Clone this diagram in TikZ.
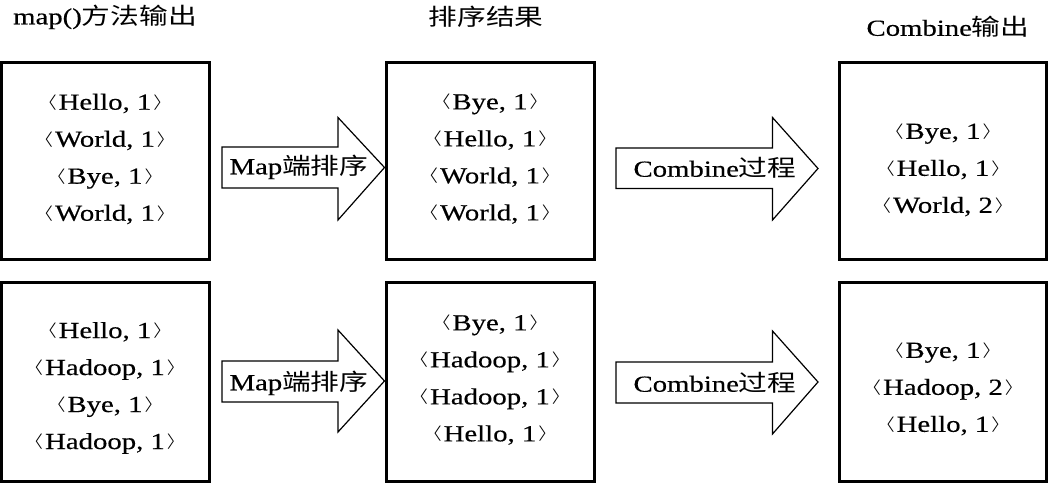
\documentclass[tikz,border=0pt]{standalone}
\usepackage{fontspec}
\setmainfont{Liberation Serif}[FakeStretch=1.25,FakeBold=0.4]
\newfontfamily\cjkfont{Noto Sans CJK SC}[FakeStretch=1.25]
\newcommand\zh[1]{{\cjkfont #1}}
\newcommand\lbr{\raisebox{3.5pt}{\scalebox{1.1}[0.62]{$\langle$}}\kern1.5pt}
\newcommand\rbr{\kern1.5pt\raisebox{3.5pt}{\scalebox{1.1}[0.62]{$\rangle$}}}
\newcommand\kv[2]{\lbr#1, #2\rbr}
\begin{document}
\begin{tikzpicture}[x=1pt,y=-1pt,
  box/.style={draw,line width=3pt,inner sep=0pt},
  arr/.style={draw,line width=1.2pt,line join=miter,fill=white},
  txt/.style={font=\fontsize{23}{37}\selectfont,align=center,inner sep=0pt},
  ttl/.style={font=\fontsize{23}{28}\selectfont,inner sep=0pt}]
\useasboundingbox (0,0) rectangle (1050,484);
% titles
\node[ttl] (h1) at (105,17) {map()\zh{方法输出}};
\node[ttl] (h2) at (486,17) {\zh{排序结果}};
\node[ttl] (h3) at (948,27) {Combine\zh{输出}};
% boxes
\node[box,minimum width=208pt,minimum height=197pt] (a1) at (105.5,161) {};
\node[box,minimum width=208pt,minimum height=197pt] (b1) at (490.5,161) {};
\node[box,minimum width=207pt,minimum height=197pt] (c1) at (943,161) {};
\node[box,minimum width=208pt,minimum height=198.5pt] (a2) at (105.5,382) {};
\node[box,minimum width=208pt,minimum height=198.5pt] (b2) at (490.5,382) {};
\node[box,minimum width=207pt,minimum height=198.5pt] (c2) at (943,382) {};
% box texts
\node[txt] (ta1) at (105,159) {\kv{Hello}{1}\\\kv{World}{1}\\\kv{Bye}{1}\\\kv{World}{1}};
\node[txt] (tb1) at (490,159) {\kv{Bye}{1}\\\kv{Hello}{1}\\\kv{World}{1}\\\kv{World}{1}};
\node[txt] (tc1) at (943,170) {\kv{Bye}{1}\\\kv{Hello}{1}\\\kv{World}{2}};
\node[txt] (ta2) at (105,388) {\kv{Hello}{1}\\\kv{Hadoop}{1}\\\kv{Bye}{1}\\\kv{Hadoop}{1}};
\node[txt] (tb2) at (490,380) {\kv{Bye}{1}\\\kv{Hadoop}{1}\\\kv{Hadoop}{1}\\\kv{Hello}{1}};
\node[txt] (tc2) at (943,389) {\kv{Bye}{1}\\\kv{Hadoop}{2}\\\kv{Hello}{1}};
% block arrows
\draw[arr] (222,147) -- (338,147) -- (338,117.5) -- (384.5,167.5) -- (338,220) -- (338,188) -- (222,188) -- cycle;
\draw[arr] (616,148) -- (772.5,148) -- (772.5,117.5) -- (818,168.5) -- (772.5,220) -- (772.5,188.5) -- (616,188.5) -- cycle;
\draw[arr] (222,361) -- (338,361) -- (338,330) -- (384.5,381) -- (338,432) -- (338,402) -- (222,402) -- cycle;
\draw[arr] (616,362) -- (772.5,362) -- (772.5,331) -- (818,382) -- (772.5,434) -- (772.5,403) -- (616,403) -- cycle;
% arrow labels
\node[ttl] (m1) at (299,167) {Map\zh{端排序}};
\node[ttl] (k1) at (715,168) {Combine\zh{过程}};
\node[ttl] (m2) at (299,383) {Map\zh{端排序}};
\node[ttl] (k2) at (715,383) {Combine\zh{过程}};
\end{tikzpicture}
\end{document}
